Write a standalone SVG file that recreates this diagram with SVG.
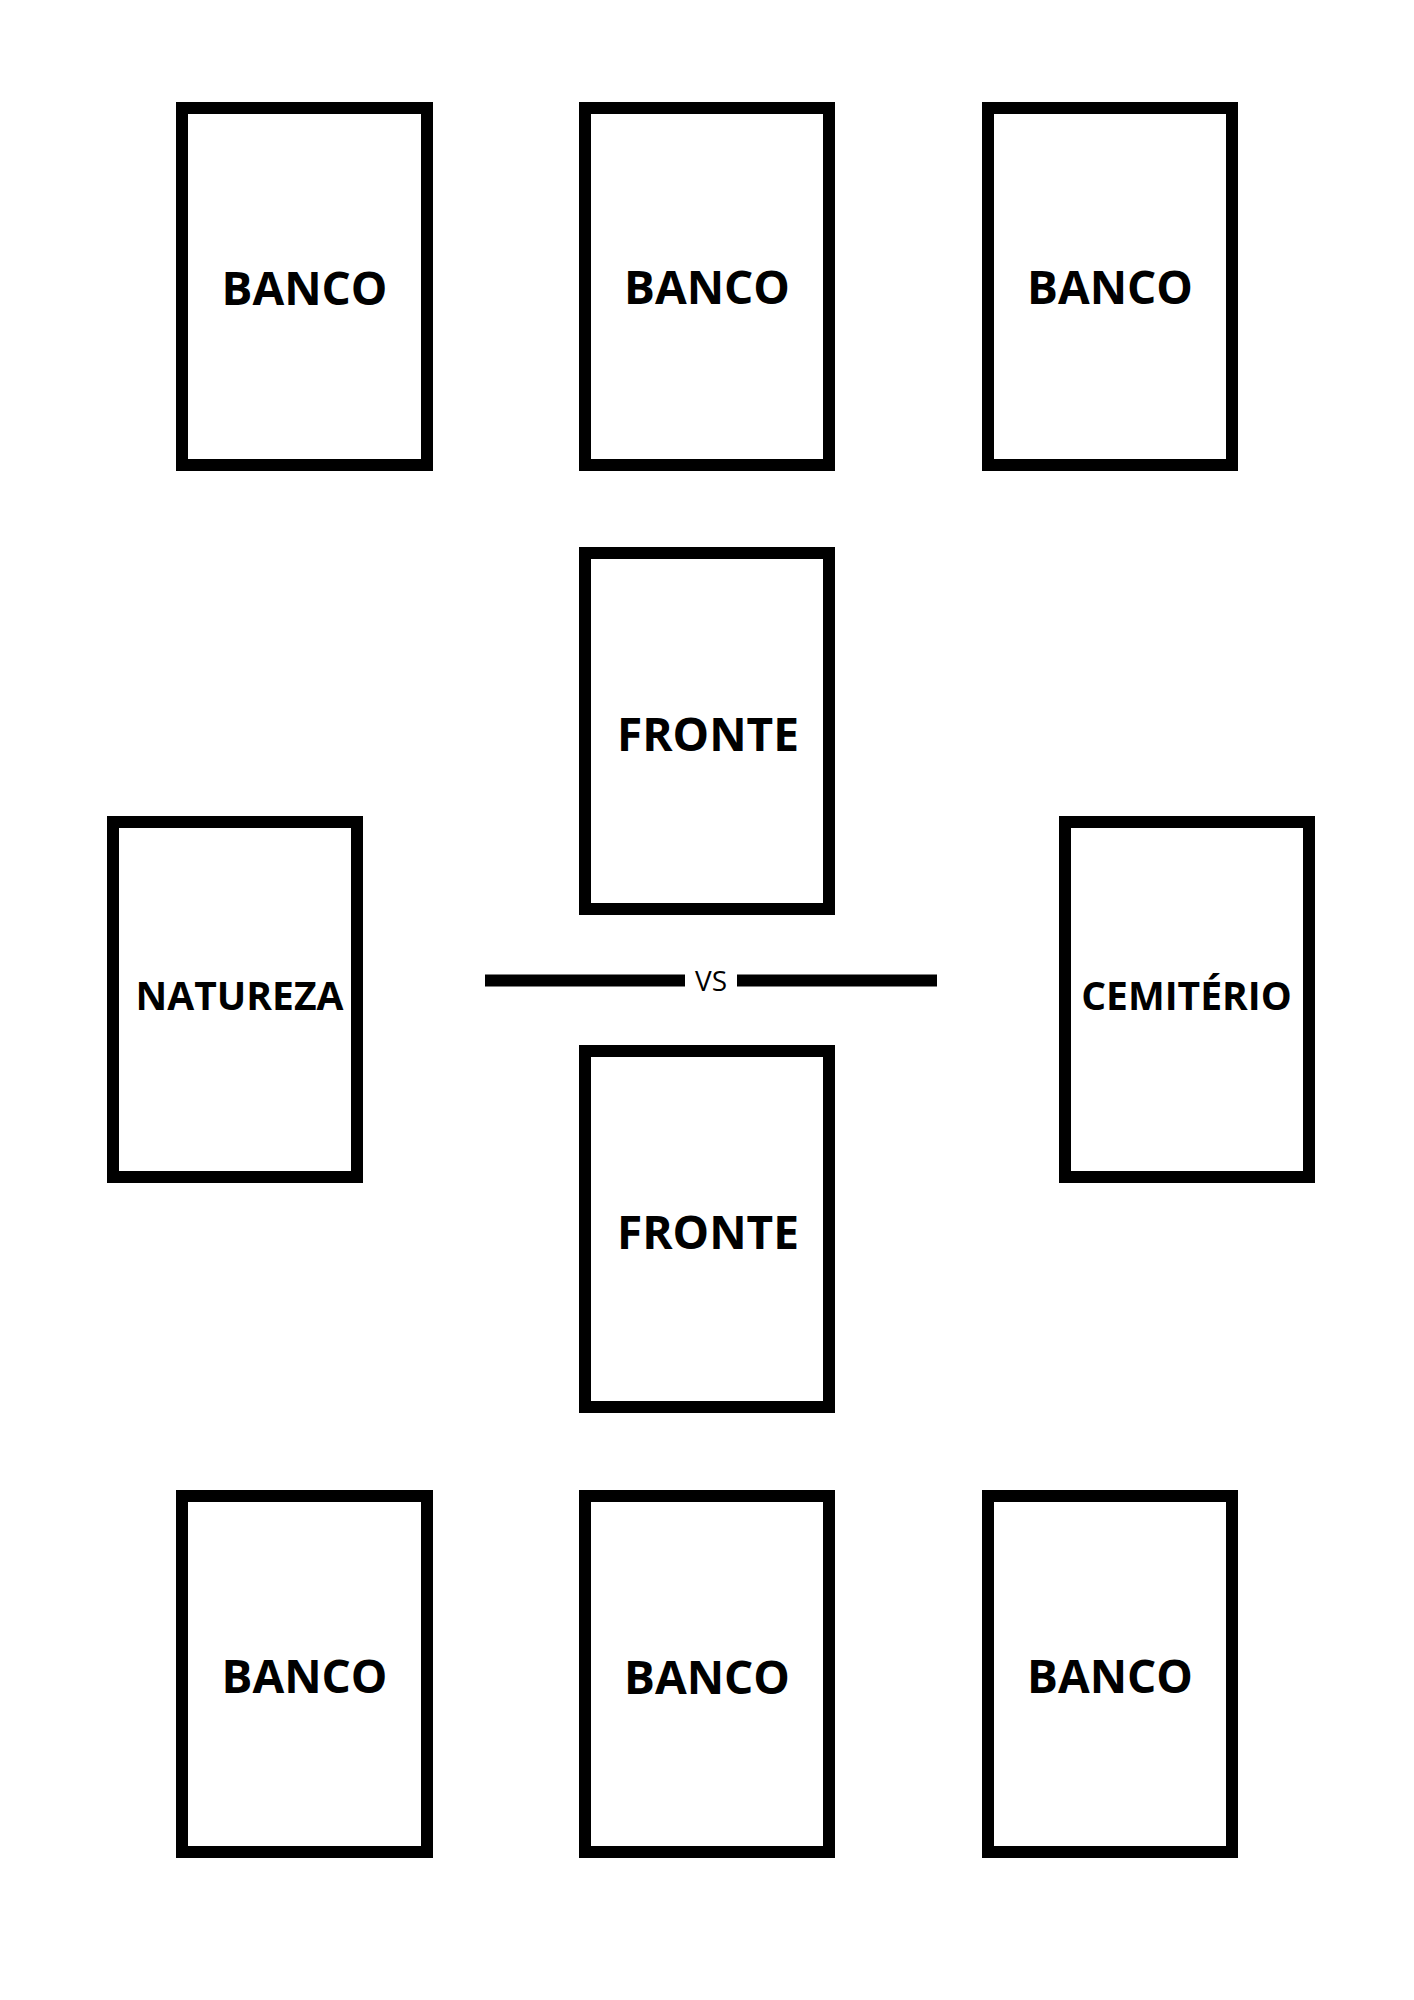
<svg xmlns="http://www.w3.org/2000/svg" width="1414" height="2000" viewBox="0 0 1414 2000">
<style>
.card{fill:#fff;stroke:#000;stroke-width:12}
.lbl{font-family:"Open Sans","Liberation Sans",sans-serif;font-weight:bold;font-size:46px;fill:#000;text-anchor:middle}
.sm{font-size:39px}
.vs{font-family:"Open Sans","Liberation Sans",sans-serif;font-size:28px;fill:#000;text-anchor:middle}
</style>
<rect width="1414" height="2000" fill="#fff"/>
<g id="banco-top-left"><rect class="card" x="182" y="108" width="245" height="357"/><text class="lbl" x="304.5" y="305">BANCO</text></g>
<g id="banco-top-center"><rect class="card" x="585" y="108" width="244" height="357"/><text class="lbl" x="707" y="303.5">BANCO</text></g>
<g id="banco-top-right"><rect class="card" x="988" y="108" width="244" height="357"/><text class="lbl" x="1110" y="303.5">BANCO</text></g>
<g id="fronte-upper"><rect class="card" x="585" y="553" width="244" height="356"/><text class="lbl" x="708" y="750.5">FRONTE</text></g>
<g id="natureza"><rect class="card" x="113" y="822" width="244" height="355"/><text class="lbl sm" x="239.5" y="1010">NATUREZA</text></g>
<g id="cemiterio"><rect class="card" x="1065" y="822" width="244" height="355"/><text class="lbl sm" x="1186.5" y="1010">CEMITÉRIO</text></g>
<g id="fronte-lower"><rect class="card" x="585" y="1051" width="244" height="356"/><text class="lbl" x="708" y="1248.5">FRONTE</text></g>
<g id="banco-bottom-left"><rect class="card" x="182" y="1496" width="245" height="356"/><text class="lbl" x="304.5" y="1692.5">BANCO</text></g>
<g id="banco-bottom-center"><rect class="card" x="585" y="1496" width="244" height="356"/><text class="lbl" x="707" y="1693.5">BANCO</text></g>
<g id="banco-bottom-right"><rect class="card" x="988" y="1496" width="244" height="356"/><text class="lbl" x="1110" y="1692.5">BANCO</text></g>
<g id="connectors">
<rect x="485" y="974.5" width="200" height="12" fill="#000"/>
<rect x="737" y="974.5" width="200" height="12" fill="#000"/>
<text class="vs" x="711" y="991">VS</text>
</g>
</svg>
